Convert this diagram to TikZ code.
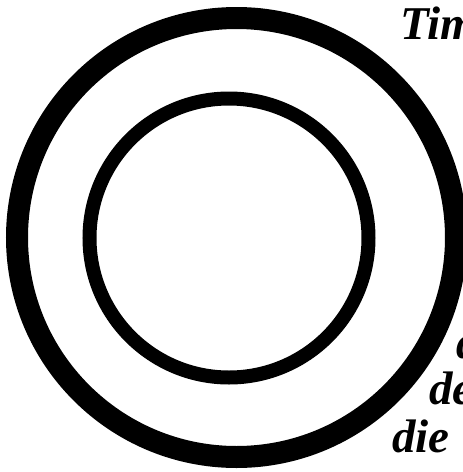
\documentclass[tikz,border=0pt]{standalone}
\usepackage{fontspec}
\setmainfont{Liberation Serif}
\begin{document}
\begin{tikzpicture}[x=1pt,y=-1pt,
  ring/.style={draw=black},
  word/.style={anchor=base west, inner sep=0pt, font=\fontsize{47}{47}\selectfont\bfseries\itshape}]
\useasboundingbox (0,0) rectangle (463,472);
\fill[white] (0,0) rectangle (463,472);
\clip (0,0) rectangle (463,472);
\draw[ring, line width=22pt] (236.5,237.5) circle (219.5);
\draw[ring, line width=14pt] (229,238) circle (139.5);
\node[word] (t1) at (400,39) {Tim};
\node[word] (t2) at (456,358) {d};
\node[word] (t3) at (429,404) {de};
\node[word] (t4) at (392,452) {die};
\end{tikzpicture}
\end{document}
